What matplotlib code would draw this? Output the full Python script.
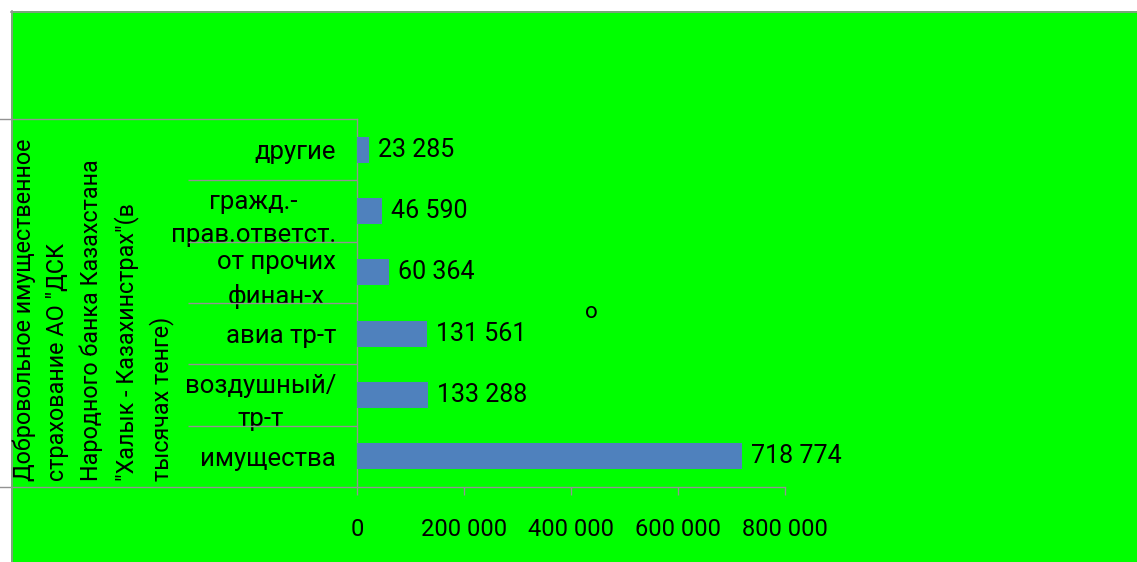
import matplotlib
matplotlib.use("Agg")
import matplotlib.pyplot as plt
from matplotlib.patches import Rectangle
from matplotlib.lines import Line2D
from matplotlib.ticker import FuncFormatter

plt.rcParams['font.family'] = ['Roboto', 'DejaVu Sans']

categories = ["имущества", "воздушный/\nтр-т", "авиа тр-т", "от прочих\nфинан-х",
              "гражд.-\nправ.ответст.", "другие"]
values = [718774, 133288, 131561, 60364, 46590, 23285]
xticks = [0, 200000, 400000, 600000, 800000]
title = ('Добровольное имущественное\nстрахование АО "ДСК\nНародного банка Казахстана\n'
         '"Халык - Казахинстрах"(в\nтысячах тенге)')

W, H = 1137, 562
GREEN = '#00FF00'
BAR = '#4F81BD'
GRAY = '#939393'

fig = plt.figure(figsize=(W / 100, H / 100), dpi=100, facecolor='white')

def fx(x):
    return x / W

def fy(y):
    return 1 - y / H

fig.add_artist(Rectangle((fx(11), 0), fx(W - 11), (H - 11) / H,
                         transform=fig.transFigure, facecolor=GREEN, edgecolor='none', zorder=0))
fig.add_artist(Line2D([fx(11), 1], [fy(11.5), fy(11.5)], transform=fig.transFigure, color=GRAY, lw=1.2, zorder=1))
fig.add_artist(Line2D([fx(11.5), fx(11.5)], [fy(11), 0], transform=fig.transFigure, color=GRAY, lw=1.2, zorder=1))
fig.add_artist(Line2D([0, fx(357)], [fy(119), fy(119)], transform=fig.transFigure, color=GRAY, lw=1, zorder=1))
fig.add_artist(Line2D([0, fx(357)], [fy(487), fy(487)], transform=fig.transFigure, color=GRAY, lw=1, zorder=1))

ax = fig.add_axes([fx(357), fy(487), fx(785 - 357), (487 - 119) / H])
ax.set_facecolor('none')
ax.set_zorder(2)

ypos = list(range(len(categories)))
ax.barh(ypos, values, height=0.42, color=BAR, zorder=3)
for y, v in zip(ypos, values):
    ax.annotate(f"{v:,}".replace(",", " "), xy=(v, y), xytext=(6.5, 0), textcoords='offset points',
                ha='left', va='center', fontsize=18, color='black')

ax.set_xlim(0, 800000)
ax.set_ylim(-0.5, len(categories) - 0.5)
ax.set_xticks(xticks)
ax.xaxis.set_major_formatter(FuncFormatter(lambda v, p: f"{int(v):,}".replace(",", " ")))
ax.tick_params(axis='x', which='major', direction='out', length=5.8, color=GRAY, width=1,
               labelsize=17, pad=16.5)

ax.set_yticks(ypos)
ax.set_yticklabels(categories, fontsize=18.5, multialignment='center')
for lbl in ax.get_yticklabels():
    lbl.set_linespacing(1.5)
ax.tick_params(axis='y', which='major', length=0, pad=15)
ax.set_yticks([i + 0.5 for i in ypos[:-1]], minor=True)
ax.tick_params(axis='y', which='minor', direction='out', length=169 * 0.72, color=GRAY, width=1)

for s in ['top', 'right']:
    ax.spines[s].set_visible(False)
for s in ['left', 'bottom']:
    ax.spines[s].set_color(GRAY)
    ax.spines[s].set_linewidth(1)

fig.text(fx(13), fy(481), title, rotation=90, ha='left', va='bottom', multialignment='left',
         fontsize=16.8, linespacing=1.55)

fig.text(fx(591), fy(313), "o", ha='center', va='center', fontsize=16)

fig.savefig("out.png", dpi=100, facecolor='white')
